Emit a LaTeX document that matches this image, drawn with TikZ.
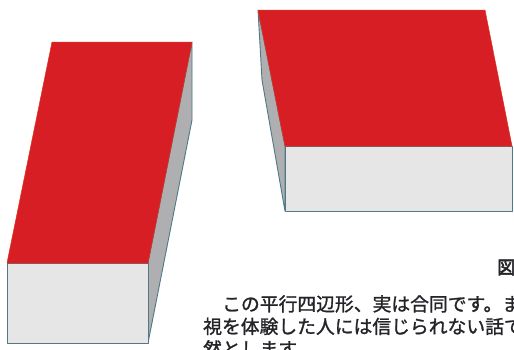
\documentclass[tikz,border=0pt]{standalone}
\usepackage{fontspec}
\newfontfamily\jp[FakeBold=1.2]{Noto Sans CJK JP}
\newfontfamily\jpbold[FakeBold=3]{Noto Sans CJK JP}
\definecolor{topred}{RGB}{215,30,36}
\definecolor{frontgray}{RGB}{230,230,230}
\definecolor{sidegray}{RGB}{175,175,178}
\definecolor{edgeblue}{RGB}{80,120,135}
\definecolor{inktext}{RGB}{35,35,40}
\tikzset{
  topface/.style={fill=topred, draw=topred!80!orange, line width=0.5pt, line join=round},
  frontface/.style={fill=frontgray, draw=edgeblue, line width=0.9pt, line join=round},
  sideface/.style={fill=sidegray, draw=edgeblue, line width=0.9pt, line join=round},
  bodytext/.style={inner sep=0pt, anchor=base west, text=inktext, font=\jp\fontsize{18.8}{22}\selectfont},
  headtext/.style={inner sep=0pt, anchor=base west, text=inktext, font=\jpbold\fontsize{18}{20}\selectfont}
}
\begin{document}
\begin{tikzpicture}[x=1pt, y=-1pt]
  \useasboundingbox (0,0) rectangle (514,349);
  \clip (0,0) rectangle (514,349);
  \fill[white] (0,0) rectangle (514,349);

  % left table: tall, seen from the right
  \draw[sideface]  (192,42) -- (192,120) -- (148,343) -- (148,263) -- cycle;
  \draw[frontface] (7,263) rectangle (148,343);
  \draw[topface]   (52,42) -- (192,42) -- (148,263) -- (7,263) -- cycle;

  % right table: wide, seen from the left
  \draw[sideface]  (258,10) -- (285,146) -- (285,211) -- (262,80) -- cycle;
  \draw[frontface] (285,146) rectangle (512,211);
  \draw[topface]   (258,10) -- (485,10) -- (512,146) -- (285,146) -- cycle;

  % caption and body text
  \node[headtext] (fig) at (497,274) {図};
  \node[bodytext] (line1) at (222,311) {この平行四辺形、実は合同です。ま};
  \node[bodytext] (line2) at (203,333.5) {視を体験した人には信じられない話で};
  \node[bodytext] (line3) at (203,356) {然とします。};
\end{tikzpicture}
\end{document}
